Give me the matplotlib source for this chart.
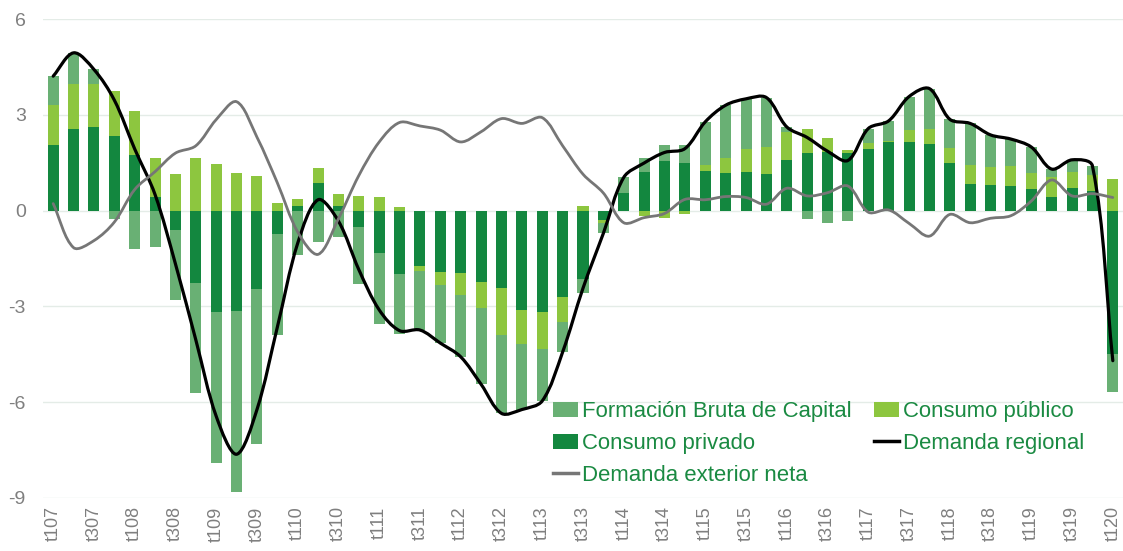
import matplotlib
matplotlib.use("Agg")
import matplotlib.pyplot as plt
from matplotlib.path import Path
from matplotlib.patches import PathPatch, Patch
from matplotlib.lines import Line2D
import numpy as np

plt.rcParams['font.family'] = ['Liberation Sans', 'DejaVu Sans']

# ---------------- data ----------------
quarters = ["t107","t207","t307","t407","t108","t208","t308","t408","t109","t209","t309","t409",
            "t110","t210","t310","t410","t111","t211","t311","t411","t112","t212","t312","t412",
            "t113","t213","t313","t413","t114","t214","t314","t414","t115","t215","t315","t415",
            "t116","t216","t316","t416","t117","t217","t317","t417","t118","t218","t318","t418",
            "t119","t219","t319","t419","t120"]

consumo_privado = [2.05, 2.56, 2.62, 2.33, 1.74, 0.42, -0.61, -2.28, -3.17, -3.14, -2.47, -0.74,
                   0.15, 0.86, 0.15, -0.51, -1.33, -1.99, -1.75, -1.92, -1.95, -2.24, -2.41, -3.12,
                   -3.18, -2.71, -2.15, -0.29, 0.54, 1.21, 1.56, 1.49, 1.23, 1.19, 1.21, 1.15,
                   1.60, 1.81, 1.84, 1.80, 1.94, 2.14, 2.15, 2.09, 1.49, 0.84, 0.79, 0.77,
                   0.67, 0.43, 0.70, 0.60, -4.50]

consumo_publico = [1.26, 1.39, 1.36, 1.40, 1.38, 1.23, 1.14, 1.65, 1.45, 1.17, 1.08, 0.25,
                   0.22, 0.47, 0.36, 0.46, 0.43, 0.11, -0.15, -0.42, -0.70, -0.82, -1.48, -1.07,
                   -1.16, -0.78, 0.15, -0.11, 0.00, -0.17, -0.22, -0.10, 0.19, 0.47, 0.72, 0.84,
                   0.87, 0.73, 0.42, 0.10, 0.17, 0.04, 0.38, 0.48, 0.47, 0.58, 0.57, 0.62,
                   0.50, 0.62, 0.51, 0.50, 0.98]

formacion_bruta = [0.90, 0.99, 0.44, -0.27, -1.19, -1.15, -2.20, -3.42, -4.72, -5.66, -4.84, -3.16,
                   -1.39, -0.99, -0.84, -1.80, -2.21, -1.88, -1.84, -1.81, -1.93, -2.38, -2.46, -2.04,
                   -1.62, -0.94, -0.43, -0.31, 0.50, 0.45, 0.48, 0.55, 1.36, 1.64, 1.57, 1.55,
                   0.15, -0.25, -0.40, -0.33, 0.46, 0.63, 1.04, 1.25, 0.90, 1.31, 1.01, 0.85,
                   0.82, 0.25, 0.38, 0.30, -1.18]

demanda_regional = [4.21, 4.94, 4.42, 3.46, 1.93, 0.50, -1.67, -4.05, -6.44, -7.63, -6.23, -3.65,
                    -1.02, 0.34, -0.33, -1.85, -3.11, -3.76, -3.74, -4.15, -4.58, -5.44, -6.35, -6.23,
                    -5.96, -4.43, -2.43, -0.71, 1.04, 1.49, 1.82, 1.94, 2.78, 3.30, 3.50, 3.54,
                    2.62, 2.29, 1.86, 1.57, 2.57, 2.81, 3.57, 3.82, 2.86, 2.73, 2.37, 2.24,
                    1.99, 1.30, 1.59, 1.40, -4.70]

demanda_exterior = [0.22, -1.16, -0.94, -0.36, 0.66, 1.22, 1.80, 2.03, 2.85, 3.41, 2.30, 0.87,
                    -0.67, -1.37, -0.25, 1.10, 2.15, 2.76, 2.65, 2.52, 2.15, 2.47, 2.88, 2.73,
                    2.91, 2.03, 1.14, 0.55, -0.38, -0.22, -0.09, 0.35, 0.34, 0.44, 0.41, 0.20,
                    0.70, 0.46, 0.56, 0.77, -0.05, 0.02, -0.40, -0.80, -0.12, -0.38, -0.24, -0.16,
                    0.30, 0.96, 0.46, 0.53, 0.41]

y_ticks = [-9, -6, -3, 0, 3, 6]

# ---------------- style ----------------
C_FBC = '#69B074'
C_PUB = '#8DC63F'
C_PRIV = '#13873F'
C_REG = '#000000'
C_EXT = '#767676'
C_TXT = '#1A8A42'
C_TICK = '#7F7F7F'
C_GRID = '#E4ECE7'

W_PX, H_PX = 1123, 551
fig = plt.figure(figsize=(W_PX / 100, H_PX / 100), dpi=100)
ax = fig.add_axes([43 / W_PX, 1 - 498 / H_PX, 1080 / W_PX, (498 - 19) / H_PX])

x = np.arange(len(quarters))
w = 0.54

priv = np.array(consumo_privado)
pub = np.array(consumo_publico)
fbc = np.array(formacion_bruta)

pos_base = np.zeros(len(x))
neg_base = np.zeros(len(x))
for vals, col in [(priv, C_PRIV), (pub, C_PUB), (fbc, C_FBC)]:
    pos = np.where(vals > 0, vals, 0)
    neg = np.where(vals < 0, vals, 0)
    ax.bar(x, pos, w, bottom=pos_base, color=col, linewidth=0, zorder=2)
    ax.bar(x, neg, w, bottom=neg_base, color=col, linewidth=0, zorder=2)
    pos_base = pos_base + pos
    neg_base = neg_base + neg

ax.set_xlim(-0.5, len(x) - 0.5)
ax.set_ylim(-9, 6)

# pixel scale per data unit (for segment-length-aware smoothing)
SX = 1080 / len(x)
SY = (498 - 19) / 15.0


def smooth_line(ax, xs, ys, color, lw, z):
    xs = np.asarray(xs, float)
    ys = np.asarray(ys, float)
    n = len(xs)
    P = np.column_stack([xs, ys])
    Q = np.column_stack([xs * SX, ys * SY])
    seg = np.hypot(np.diff(Q[:, 0]), np.diff(Q[:, 1]))
    out_c = []
    in_c = []
    for i in range(n):
        if i == 0:
            d = P[1] - P[0]
            out_c.append(P[0] + d / 3.0)
            in_c.append(P[0])
            continue
        if i == n - 1:
            d = P[-1] - P[-2]
            in_c.append(P[-1] - d / 3.0)
            out_c.append(P[-1])
            continue
        d = P[i + 1] - P[i - 1]
        lp, ln = seg[i - 1], seg[i]
        tot = lp + ln
        in_c.append(P[i] - d * (lp / tot) / 3.0)
        out_c.append(P[i] + d * (ln / tot) / 3.0)
    verts = [tuple(P[0])]
    codes = [Path.MOVETO]
    for i in range(n - 1):
        verts += [tuple(out_c[i]), tuple(in_c[i + 1]), tuple(P[i + 1])]
        codes += [Path.CURVE4] * 3
    patch = PathPatch(Path(verts, codes), fill=False, edgecolor=color, lw=lw,
                      capstyle='round', joinstyle='round', zorder=z)
    ax.add_patch(patch)


smooth_line(ax, x, demanda_regional, C_REG, 2.3, 4)
smooth_line(ax, x, demanda_exterior, C_EXT, 2.0, 5)

ax.set_yticks(y_ticks)
ax.set_yticklabels([str(v) for v in y_ticks])
ax.set_xticks(x[::2])
ax.set_xticklabels(quarters[::2], rotation=90)
ax.tick_params(axis='both', length=0, colors=C_TICK)
ax.tick_params(axis='y', pad=12.5, labelsize=14)
ax.tick_params(axis='x', pad=6, labelsize=13)
for lab in ax.get_yticklabels() + ax.get_xticklabels():
    lab.set_color(C_TICK)
for s in ax.spines.values():
    s.set_visible(False)
ax.grid(axis='y', color=C_GRID, lw=1.0, zorder=0)
ax.set_axisbelow(True)

handles = [
    Patch(facecolor=C_FBC, edgecolor='none', label='Formación Bruta de Capital'),
    Patch(facecolor=C_PRIV, edgecolor='none', label='Consumo privado'),
    Line2D([0], [0], color=C_EXT, lw=2.5, label='Demanda exterior neta'),
    Patch(facecolor=C_PUB, edgecolor='none', label='Consumo público'),
    Line2D([0], [0], color=C_REG, lw=2.5, label='Demanda regional'),
]
leg = fig.legend(handles=handles, ncol=2, loc='upper left',
                 bbox_to_anchor=(553 / W_PX, 1 - 401 / H_PX), frameon=False,
                 fontsize=15.9, borderpad=0, handlelength=1.14, handleheight=0.7,
                 handletextpad=0.18, labelspacing=0.5, columnspacing=1.0,
                 borderaxespad=0)
for t in leg.get_texts():
    t.set_color(C_TXT)

fig.savefig('out.png', dpi=100)
